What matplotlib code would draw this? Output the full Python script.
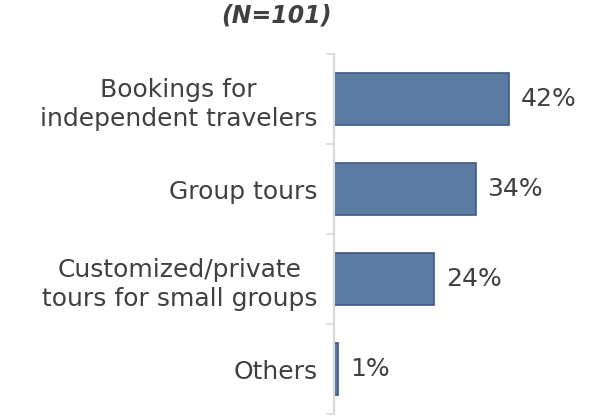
import matplotlib.pyplot as plt

# Chart data
categories = ["Bookings for\nindependent travelers", "Group tours",
              "Customized/private\ntours for small groups", "Others"]
shares = [42, 34, 24, 1]
title = "(N=101)"

W, H = 608, 419
fig = plt.figure(figsize=(W / 100, H / 100), dpi=100)

# axes placed in pixel terms: left edge 334, top 54, bottom 414
ax = fig.add_axes([334 / W, (H - 414) / H, 250 / W, 360 / H])

text_col = "#404040"
pos = list(range(len(categories)))
ax.barh(pos, shares, height=0.57, color="#5b7ba2", edgecolor="#3f5a80", linewidth=1.2)

for y, v in zip(pos, shares):
    ax.text(v + 2.8, y, f"{v}%", va="center", ha="left", fontsize=18, color=text_col)

ax.set_xlim(0, 60)
ax.set_ylim(len(categories) - 0.5, -0.5)

# category labels at bar centres, tick marks at boundaries
ax.set_yticks(pos)
ax.set_yticklabels(categories, fontsize=18, color=text_col, ha="right",
                   multialignment="center", linespacing=1.3)
ax.tick_params(axis="y", which="major", length=0, pad=12)
ax.set_yticks([p - 0.5 for p in pos] + [len(categories) - 0.5], minor=True)
ax.tick_params(axis="y", which="minor", length=6, width=1.2, color="#d9d9d9")

ax.set_xticks([])
for s in ["top", "right", "bottom"]:
    ax.spines[s].set_visible(False)
ax.spines["left"].set_color("#d9d9d9")
ax.spines["left"].set_linewidth(1.5)

fig.text(276 / W, 1 - 16 / H, title, ha="center", va="center",
         fontsize=17, fontweight="bold", fontstyle="italic", color=text_col)

fig.savefig("out.png", dpi=100)
